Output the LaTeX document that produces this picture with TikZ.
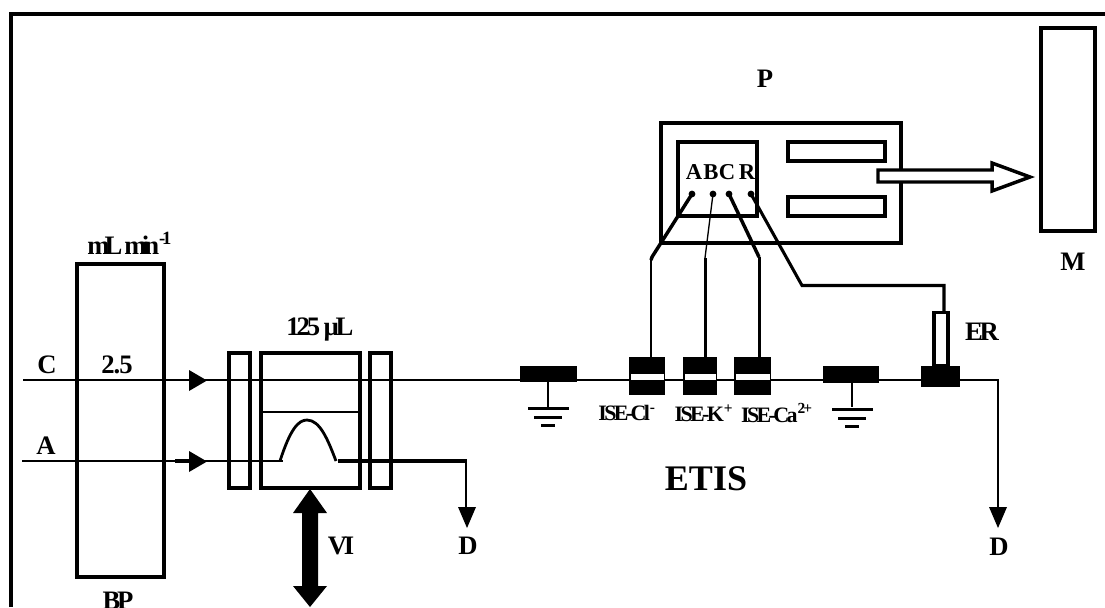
\documentclass[tikz,border=0pt]{standalone}
\usepackage{fontspec}
\setmainfont{Liberation Serif}
\usetikzlibrary{arrows.meta}
\tikzset{
  x=0.75pt,y=-0.75pt,
  thick3/.style={line width=2.8pt,draw=black},
  thin2/.style={line width=2pt,draw=black},
  lab/.style={font=\bfseries\fontsize{20}{20}\selectfont,inner sep=0pt,text=black},
  inlab/.style={font=\bfseries\fontsize{17}{17}\selectfont,inner sep=0pt,text=black},
  tight/.style={font=\bfseries\fontsize{20}{20}\selectfont\addfontfeatures{LetterSpace=-12},inner sep=0pt},
  tighter/.style={font=\bfseries\fontsize{20}{20}\selectfont\addfontfeatures{LetterSpace=-18},inner sep=0pt},
  loose/.style={font=\bfseries\fontsize{20}{20}\selectfont\addfontfeatures{LetterSpace=-4},inner sep=0pt},
  tightsm/.style={font=\bfseries\fontsize{16.5}{16.5}\selectfont\addfontfeatures{LetterSpace=-12},inner sep=0pt},
}
\begin{document}
\begin{tikzpicture}
\useasboundingbox (0,0) rectangle (1105,607);
% frame
\draw[line width=2.8pt] (11,607) -- (11,14) -- (1105,14);
% pump
\draw[thick3] (77,264) rectangle (164,577);
% injector
\draw[thick3] (229,353) rectangle (250,488);
\draw[thick3] (261,353) rectangle (360,488);
\draw[thick3] (370,353) rectangle (391,488);
\draw[line width=1.6pt] (261,412) -- (360,412);
% lines
\draw[thin2] (23,380) -- (998,380) -- (998,510);
\draw[line width=1.7pt] (22,461) -- (283,461);
\draw[line width=2.6pt] (175,461) -- (195,461);
\draw[line width=2.1pt] (280,461) .. controls (290,430) and (298,420) .. (307,420) .. controls (320,420) and (328,440) .. (336,461);
\draw[line width=3.2pt] (338,461) -- (467,461);
\draw[thin2] (466,461) -- (466,510);
% flow arrowheads
\fill (189,370) -- (207,380.5) -- (189,391) -- cycle;
\fill (189,451) -- (207,461.5) -- (189,472) -- cycle;
\fill (458,507) -- (476,507) -- (467,528) -- cycle;
\fill (989,507) -- (1007,507) -- (998,528) -- cycle;
% valve double arrow
\fill (310,489) -- (327,513) -- (318,513) -- (318,586) -- (327,586) -- (310,607) -- (293,586) -- (302,586) -- (302,513) -- (293,513) -- cycle;
% detectors
\fill (520,366) rectangle (577,382);
\fill (823,366) rectangle (879,383);
\draw[thin2] (548,382) -- (548,407);
\draw[thin2] (852,383) -- (852,407);
\foreach \cx/\y in {548/408,852/409}{
  \fill (\cx-20.5,\y-1.5) rectangle (\cx+20.5,\y+1.5);
  \fill (\cx-14,\y+8) rectangle (\cx+14,\y+11);
  \fill (\cx-7,\y+16) rectangle (\cx+7,\y+19);
}
\foreach \a/\b in {629/665,683/717,734/771}{
  \fill (\a,357) rectangle (\b,395);
  \fill[white] (\a+1.5,374) rectangle (\b-1.5,380);
}
\fill (921,366) rectangle (960,387);
\draw[line width=2.6pt,fill=white] (934,312.5) rectangle (948,366);
% processor
\draw[line width=3.4pt] (661,123) rectangle (901,243);
\draw[thick3] (678,142) rectangle (757,216);
\draw[thick3] (788,142) rectangle (885,161);
\draw[thick3] (788,197) rectangle (885,216);
\draw[thick3] (1041,28) rectangle (1095,231);
\draw[line width=2.6pt,fill=white,line join=miter] (878,170) -- (992,170) -- (992,163) -- (1030,177) -- (992,191) -- (992,182) -- (878,182) -- cycle;
% leads
\fill (692,194) circle (3.4);
\fill (713,194) circle (3.4);
\fill (729,194) circle (3.4);
\fill (751,194) circle (3.4);
\draw[line width=2.6pt] (692,194) -- (652,257) -- (651,260);
\draw[thin2] (651,258) -- (651,357);
\draw[line width=1pt] (713,194) -- (705,258);
\draw[thin2] (705.5,258) -- (705.5,357);
\draw[line width=2.6pt] (729,194) -- (759,257);
\draw[thin2] (759.5,257) -- (759.5,357);
\draw[line width=2.3pt] (751,194) -- (802,285.5) -- (944,285.5) -- (944,312);
% texts
\node[lab] at (765,79) {P};
\node[lab] at (1073,262) {M};
\node[inlab] at (694,172) {A};
\node[inlab] at (711,172) {B};
\node[inlab] at (727,172) {C};
\node[inlab] at (747,172) {R};
\node[tighter,anchor=west] at (87,243) {mL min\textsuperscript{-1}};
\node[lab] at (47,365) {C};
\node[lab] at (46,446) {A};
\node[loose] at (117,365) {2.5};
\node[tight] at (320,330) {125 µL};
\node[tight] at (341,546) {VI};
\node[lab] at (468,546) {D};
\node[lab] at (999,547) {D};
\node[tight] at (118,601) {BP};
\node[tight] at (982,332) {ER};
\node[tightsm] at (627,413) {ISE-Cl\textsuperscript{-}};
\node[tightsm] at (704,413) {ISE-K\textsuperscript{+}};
\node[tightsm] at (777,413) {ISE-Ca\textsuperscript{2+}};
\node[font=\bfseries\fontsize{27}{27}\selectfont,inner sep=0pt] at (706,479) {ETIS};
\end{tikzpicture}
\end{document}
